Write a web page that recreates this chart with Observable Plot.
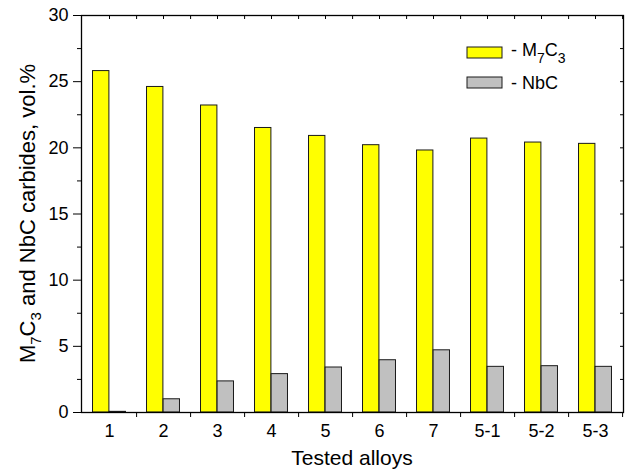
<!DOCTYPE html>
<html><head><meta charset="utf-8">
<script src="https://cdn.jsdelivr.net/npm/d3@7"></script>
<script src="https://cdn.jsdelivr.net/npm/@observablehq/plot@0.6"></script>
<style>body{margin:0;background:#fff;} svg{display:block}</style>
</head><body><div id="chart"></div>
<script>
const alloys = ["1","2","3","4","5","6","7","5-1","5-2","5-3"];
const m7c3 = [25.8,24.6,23.2,21.5,20.9,20.2,19.8,20.7,20.4,20.3];
const nbc = [0.05,1.0,2.35,2.9,3.4,3.95,4.7,3.45,3.5,3.45];
const yTicks = [0,5,10,15,20,25,30];
const yMinor = [2.5,7.5,12.5,17.5,22.5,27.5];
const seriesNames = ["M7C3","NbC"];
const seriesColors = ["#ffff00","#c0c0c0"];

const data = alloys.map((a,i)=>({alloy:a, m7c3:m7c3[i], nbc:nbc[i]}));
const W=627,H=471, mL=81, mR=4, mT=15, mB=59;
const step = (W-mL-mR)/alloys.length;
const barW = step*0.306;
const font = "'Liberation Sans', Arial, sans-serif";
const blank = () => "";

const chart = Plot.plot({
  width: W, height: H, marginLeft: mL, marginRight: mR, marginTop: mT, marginBottom: mB,
  style: {fontFamily: font, fontSize: "18px", color: "#000", background: "#fff"},
  x: {domain: alloys, padding: 0, label: null},
  y: {domain: [0,30], label: null},
  marks: [
    Plot.barY(data, {x:"alloy", y:"m7c3", fill:seriesColors[0], stroke:"#1a1a1a", strokeWidth:1, insetLeft: step/2-barW, insetRight: step/2}),
    Plot.barY(data, {x:"alloy", y:"nbc", fill:seriesColors[1], stroke:"#1a1a1a", strokeWidth:1, insetLeft: step/2, insetRight: step/2-barW}),
    Plot.axisY(yTicks, {tickSize: 8, tickPadding: 5, label: null, fontSize: 18}),
    Plot.axisY(yMinor, {tickSize: 4, tickFormat: blank, label: null}),
    Plot.axisY([...yTicks, ...yMinor], {anchor: "right", tickSize: -4, tickFormat: blank, label: null}),
    Plot.axisX({tickSize: 0, tickPadding: 12, label: null, fontSize: 18}),
    Plot.axisX({tickSize: 5, dx: step/2, tickFormat: blank, label: null}),
    Plot.axisX({anchor: "top", tickSize: -3, tickFormat: blank, label: null}),
    Plot.axisX({anchor: "top", tickSize: -3, dx: step/2, tickFormat: blank, label: null}),
    Plot.frame({stroke: "#000", strokeWidth: 1.3})
  ]
});
document.getElementById("chart").appendChild(chart);

const svg = d3.select(chart);
// x label
svg.append("text").attr("x", (mL + W - mR)/2).attr("y", 465)
  .attr("text-anchor","middle").attr("font-family", font).attr("font-size", 21).attr("fill","#000")
  .text("Tested alloys");
// y label with subscripts
const yl = svg.append("text").attr("transform", `translate(35,${(mT + H - mB)/2}) rotate(-90)`)
  .attr("text-anchor","middle").attr("font-family", font).attr("font-size", 22).attr("fill","#000");
yl.append("tspan").text("M");
yl.append("tspan").attr("dy", 6).attr("font-size", 15).text("7");
yl.append("tspan").attr("dy", -6).text("C");
yl.append("tspan").attr("dy", 6).attr("font-size", 15).text("3");
yl.append("tspan").attr("dy", -6).text(" and NbC carbides, vol.%");

// legend
const lg = svg.append("g").attr("font-family", font).attr("font-size", 18)
  .attr("fill", "#000").attr("text-anchor", "start");
[0,1].forEach(i => {
  const y0 = 47 + i*30;
  lg.append("rect").attr("x", 467).attr("y", y0).attr("width", 35).attr("height", 11)
    .attr("fill", seriesColors[i]).attr("stroke", "#1a1a1a");
  const t = lg.append("text").attr("x", 511).attr("y", y0 + (i === 0 ? 9 : 12));
  if (i === 0) {
    t.append("tspan").text("- M");
    t.append("tspan").attr("dy", 7).attr("font-size", 14).text("7");
    t.append("tspan").attr("dy", -7).text("C");
    t.append("tspan").attr("dy", 7).attr("font-size", 14).text("3");
  } else {
    t.text("- " + seriesNames[1]);
  }
});
</script>
</body></html>
